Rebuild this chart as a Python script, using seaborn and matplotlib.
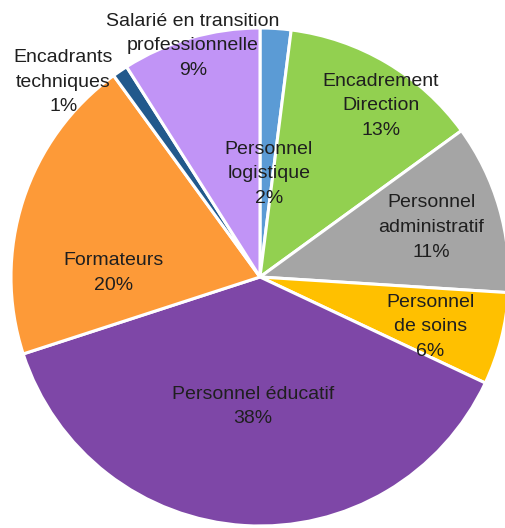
import matplotlib.pyplot as plt
import seaborn as sns
import numpy as np
from matplotlib import font_manager


# =========================
# Data
# =========================

categories = [
    "Personnel\nlogistique",
    "Encadrement\nDirection",
    "Personnel\nadministratif",
    "Personnel\nde soins",
    "Personnel éducatif",
    "Formateurs",
    "Encadrants\ntechniques",
    "Salarié en transition\nprofessionnelle",
]

shares = [2, 13, 11, 6, 38, 20, 1, 9]

colors = [
    "#5B9BD5",
    "#92D050",
    "#A5A5A5",
    "#FFC000",
    "#7E47A7",
    "#FD9A38",
    "#22598C",
    "#C194F6",
]

# label offsets from centre, in radius units
label_pos = [
    (0.036, 0.414),
    (0.486, 0.687),
    (0.687, 0.20),
    (0.683, -0.20),
    (-0.028, -0.52),
    (-0.59, 0.016),
    (-0.79, 0.783),
    (-0.269, 0.928),
]


# =========================
# Style
# =========================

sns.set_theme(style="white")

names = {f.name for f in font_manager.fontManager.ttflist}
family = ["Liberation Sans Narrow", "Liberation Sans", "DejaVu Sans"]
family = [f for f in family if f in names] or ["DejaVu Sans"]
plt.rcParams["font.family"] = family


# =========================
# Plot
# =========================

fig = plt.figure(figsize=(5.06, 5.28), dpi=100)
ax = fig.add_axes([0, 0, 1, 1])

cx, cy, r = 260, 251, 249

ax.pie(
    shares,
    colors=colors,
    startangle=90,
    counterclock=False,
    radius=r,
    center=(cx, cy),
    wedgeprops=dict(edgecolor="white", linewidth=2.2),
)

for name, val, (dx, dy) in zip(categories, shares, label_pos):
    ax.text(
        cx + dx * r,
        cy + dy * r,
        f"{name}\n{val}%",
        ha="center",
        va="center",
        fontsize=14,
        color="#1f1f1f",
        linespacing=1.6,
    )

ax.set_xlim(0, 506)
ax.set_ylim(0, 528)
ax.set_aspect("equal")
ax.axis("off")

fig.savefig("out.png", dpi=100)
